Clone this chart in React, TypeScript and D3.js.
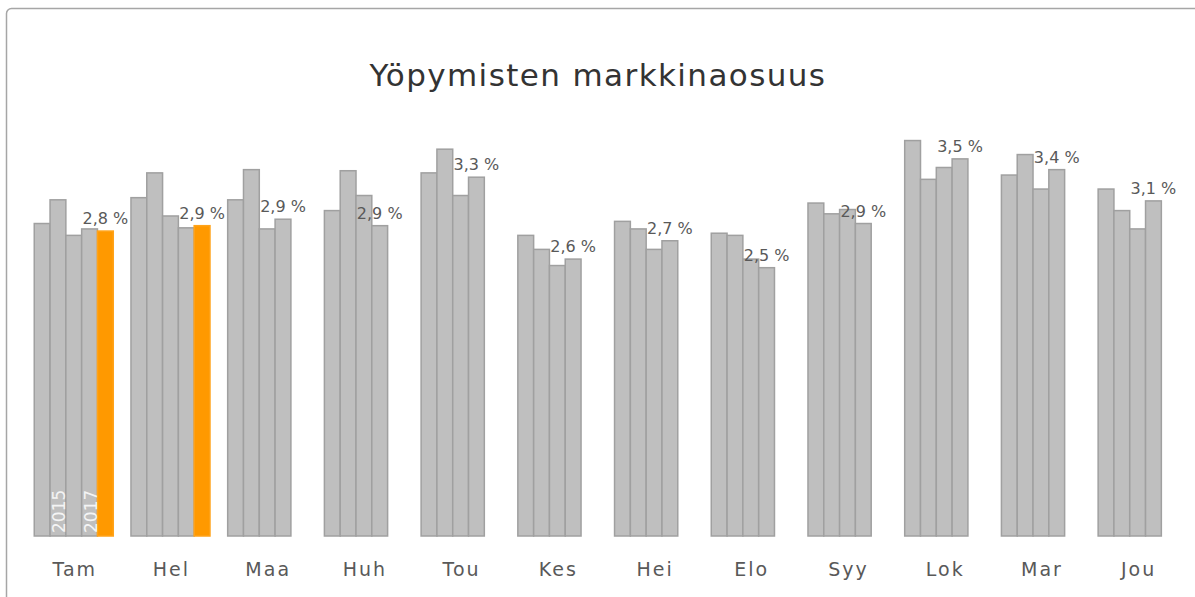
import React, { useEffect, useRef } from 'react';
import * as d3 from 'd3';

// Market share of overnight stays per month, %
const months = ['Tam', 'Hel', 'Maa', 'Huh', 'Tou', 'Kes', 'Hei', 'Elo', 'Syy', 'Lok', 'Mar', 'Jou'];
const years = ['2014', '2015', '2016', '2017', '2018'];

const share2014 = [2.90, 3.14, 3.12, 3.02, 3.37, 2.79, 2.92, 2.81, 3.09, 3.67, 3.35, 3.22];
const share2015 = [3.12, 3.37, 3.40, 3.39, 3.59, 2.66, 2.85, 2.79, 2.99, 3.31, 3.54, 3.02];
const share2016 = [2.79, 2.97, 2.85, 3.16, 3.16, 2.51, 2.66, 2.57, 3.03, 3.42, 3.22, 2.85];
const share2017 = [2.85, 2.86, 2.94, 2.88, 3.33, 2.57, 2.74, 2.49, 2.90, 3.50, 3.40, 3.11];
const share2018 = [2.83, 2.88, null, null, null, null, null, null, null, null, null, null];

const seriesValues: (number | null)[][] = [share2014, share2015, share2016, share2017, share2018];

// years written inside the first group's bars
const yearLabels = ['2015', '2017'];

const W = 1195;
const H = 597;

interface Bar {
  month: string;
  year: string;
  value: number;
  yi: number;
}

const App: React.FC = () => {
  const svgRef = useRef<SVGSVGElement>(null);

  useEffect(() => {
    if (!svgRef.current) return;
    const svg = d3.select(svgRef.current);
    svg.selectAll('*').remove();

    const font = '"DejaVu Sans", Verdana, sans-serif';

    // chart frame
    svg.append('rect')
      .attr('x', 6.5)
      .attr('y', 8.5)
      .attr('width', W + 20)
      .attr('height', H + 20)
      .attr('rx', 5)
      .attr('fill', '#fff')
      .attr('stroke', '#a6a6a6')
      .attr('stroke-width', 1.5);

    svg.append('text')
      .attr('x', 598)
      .attr('y', 86)
      .attr('text-anchor', 'middle')
      .attr('font-family', font)
      .attr('font-size', 31)
      .attr('letter-spacing', 1.4)
      .attr('fill', '#333')
      .text('Yöpymisten markkinaosuus');

    const x0 = d3.scaleBand()
      .domain(months)
      .range([25.4, 1186]);

    const gap = 8.85;
    const x1 = d3.scaleBand()
      .domain(years)
      .range([gap, x0.bandwidth() - gap]);

    const y = d3.scaleLinear()
      .domain([0, 4])
      .range([536, 105]);

    const bars: Bar[] = [];
    months.forEach((m, mi) => {
      years.forEach((yr, yi) => {
        const v = seriesValues[yi][mi];
        if (v !== null && v !== undefined) bars.push({ month: m, year: yr, value: v, yi });
      });
    });

    const g = svg.append('g');

    g.selectAll('rect.bar')
      .data(bars)
      .enter()
      .append('rect')
      .attr('class', 'bar')
      .attr('x', d => (x0(d.month) || 0) + (x1(d.year) || 0))
      .attr('y', d => y(d.value))
      .attr('width', x1.bandwidth())
      .attr('height', d => y(0) - y(d.value))
      .attr('fill', d => d.year === '2018' ? '#ff9900' : '#bfbfbf')
      .attr('stroke', d => d.year === '2018' ? '#ffa31a' : '#a0a0a0')
      .attr('stroke-width', 1.5);

    // value label over the latest bar of each month
    const latest = months.map(m => {
      const mb = bars.filter(b => b.month === m);
      return mb[mb.length - 1];
    });

    g.selectAll('text.val')
      .data(latest)
      .enter()
      .append('text')
      .attr('class', 'val')
      .attr('x', d => (x0(d.month) || 0) + (x1(d.year) || 0) + x1.bandwidth() / 2)
      .attr('y', d => y(d.value) - 7)
      .attr('text-anchor', 'middle')
      .attr('font-family', font)
      .attr('font-size', 16)
      .attr('fill', '#595959')
      .text(d => d.value.toFixed(1).replace('.', ',') + ' %');

    // year names inside the first group
    g.selectAll('text.yr')
      .data(yearLabels)
      .enter()
      .append('text')
      .attr('class', 'yr')
      .attr('transform', d =>
        `translate(${(x0(months[0]) || 0) + (x1(d) || 0) + x1.bandwidth() / 2 + 1},${y(0) - 3}) rotate(-90)`)
      .attr('dy', '0.35em')
      .attr('font-family', font)
      .attr('font-size', 17)
      .attr('fill', '#f4f4f4')
      .text(d => d);

    // category axis labels
    g.selectAll('text.cat')
      .data(months)
      .enter()
      .append('text')
      .attr('class', 'cat')
      .attr('x', d => (x0(d) || 0) + x0.bandwidth() / 2 + 1)
      .attr('y', 576)
      .attr('text-anchor', 'middle')
      .attr('font-family', font)
      .attr('font-size', 19)
      .attr('letter-spacing', 2)
      .attr('fill', '#595959')
      .text(d => d);
  }, []);

  return (
    <svg
      ref={svgRef}
      width={W}
      height={H}
      style={{ display: 'block', position: 'absolute', left: 0, top: 0 }}
    />
  );
};

export default App;
